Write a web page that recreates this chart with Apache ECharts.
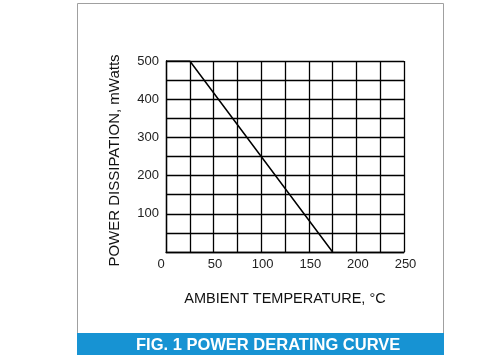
<!DOCTYPE html>
<html>
<head>
<meta charset="utf-8">
<script src="https://cdn.jsdelivr.net/npm/echarts@6/dist/echarts.min.js"></script>
<style>
html,body{margin:0;padding:0;background:#fff;}
#c{width:500px;height:358px;}
</style>
</head>
<body>
<div id="c"></div>
<script>
// Data
const temperature = [0, 25, 175];          // Ambient temperature, °C
const powerDissipation = [500, 500, 0];    // mWatts
const xTicks = [0, 50, 100, 150, 200, 250];
const yTicks = [100, 200, 300, 400, 500];
const chartTitle = 'FIG. 1 POWER DERATING CURVE';
const xTitle = 'AMBIENT TEMPERATURE, °C';
const yTitle = 'POWER DISSIPATION, mWatts';

const font = '"Liberation Sans", Arial, sans-serif';
const chart = echarts.init(document.getElementById('c'), null, {renderer: 'canvas'});

chart.setOption({
  animation: false,
  backgroundColor: '#fff',
  title: {
    text: chartTitle,
    left: 136,
    top: 337,
    padding: 0,
    textStyle: {color: '#fff', fontFamily: font, fontSize: 16.5, fontWeight: 'bold'}
  },
  graphic: [
    {type: 'rect', z: -10, shape: {x: 77.5, y: 3.5, width: 366, height: 351},
     style: {fill: '#fff', stroke: '#a0a0a0', lineWidth: 1}},
    {type: 'rect', z: -5, shape: {x: 77, y: 333, width: 367, height: 22},
     style: {fill: '#1793d3'}}
  ],
  grid: {left: 166, right: 96, top: 61, bottom: 106, containLabel: false},
  xAxis: {
    type: 'value', min: 0, max: 250, interval: 25,
    name: xTitle, nameLocation: 'middle', nameGap: 39,
    nameTextStyle: {color: '#111', fontFamily: font, fontSize: 14.5},
    axisLine: {show: true, lineStyle: {color: '#000', width: 1.3}},
    axisTick: {show: false},
    splitLine: {show: true, lineStyle: {color: '#000', width: 1.3}},
    axisLabel: {
      margin: 6, color: '#222', fontFamily: font, fontSize: 13,
      formatter: v => xTicks.includes(v) ? (v === 0 ? '{z|0}' : '{a|' + v + '}') : '',
      rich: {z: {padding: [0, 10, 0, 0], fontFamily: font, fontSize: 13, color: '#222'},
             a: {padding: [0, 0, 0, 3], fontFamily: font, fontSize: 13, color: '#222'}}
    }
  },
  yAxis: {
    type: 'value', min: 0, max: 500, interval: 50,
    name: yTitle, nameLocation: 'middle', nameGap: 44, nameRotate: 90,
    nameTextStyle: {color: '#111', fontFamily: font, fontSize: 15, padding: [0, 8, 0, 0]},
    axisLine: {show: true, lineStyle: {color: '#000', width: 1.3}},
    axisTick: {show: false},
    splitLine: {show: true, lineStyle: {color: '#000', width: 1.3}},
    axisLabel: {
      margin: 7, color: '#222', fontFamily: font, fontSize: 13, padding: [4, 0, 0, 0],
      formatter: v => yTicks.includes(v) ? String(v) : ''
    }
  },
  series: [{
    type: 'line',
    data: temperature.map((t, i) => [t, powerDissipation[i]]),
    symbol: 'none',
    lineStyle: {color: '#000', width: 1.5},
    z: 5
  }]
});
</script>
</body>
</html>
